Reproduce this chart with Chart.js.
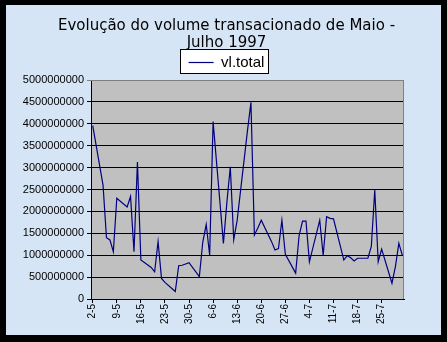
<!DOCTYPE html>
<html>
<head>
<meta charset="utf-8">
<script src="https://cdn.jsdelivr.net/npm/chart.js@4/dist/chart.umd.min.js"></script>
<style>
  html, body { margin: 0; padding: 0; background: #000; }
  #container { width: 447px; height: 342px; }
</style>
</head>
<body>
<div id="container"><canvas id="myChart" width="447" height="342"></canvas></div>
<script>
// trading days (d-m, 1997) and volume traded on each
const tradeDays = [
  '2-5',
  '5-5', '6-5', '7-5', '8-5', '9-5',
  '12-5', '13-5', '14-5', '15-5', '16-5',
  '19-5', '20-5', '21-5', '22-5', '23-5',
  '26-5', '27-5', '28-5', '29-5', '30-5',
  '2-6', '3-6', '4-6', '5-6', '6-6',
  '9-6', '10-6', '11-6', '12-6', '13-6',
  '16-6', '17-6', '18-6', '19-6', '20-6',
  '23-6', '24-6', '25-6', '26-6', '27-6',
  '30-6', '1-7', '2-7', '3-7', '4-7',
  '7-7', '8-7', '9-7', '10-7', '11-7',
  '14-7', '15-7', '16-7', '17-7', '18-7',
  '21-7', '22-7', '23-7', '24-7', '25-7',
  '28-7', '29-7', '30-7', '31-7'
];
const vlTotal = [
  3960000000,
  2600000000, 1400000000, 1350000000, 1080000000, 2300000000,
  2100000000, 2340000000, 1080000000, 3130000000, 890000000,
  720000000, 620000000, 1310000000, 470000000, 380000000,
  170000000, 760000000, 770000000, 800000000, 830000000,
  510000000, 1300000000, 1700000000, 1000000000, 4050000000,
  1270000000, 2200000000, 3020000000, 1350000000, 1800000000,
  3850000000, 4490000000, 1460000000, 1620000000, 1800000000,
  1310000000, 1120000000, 1150000000, 1800000000, 1020000000,
  590000000, 1450000000, 1780000000, 1780000000, 850000000,
  1800000000, 1000000000, 1880000000, 1840000000, 1830000000,
  890000000, 990000000, 940000000, 870000000, 930000000,
  930000000, 1200000000, 2490000000, 850000000, 1140000000,
  360000000, 740000000, 1270000000, 1000000000
];
const tickLabels = ['2-5', '9-5', '16-5', '23-5', '30-5', '6-6', '13-6', '20-6', '27-6', '4-7', '11-7', '18-7', '25-7'];
const yTicks = [0, 500000000, 1000000000, 1500000000, 2000000000, 2500000000, 3000000000, 3500000000, 4000000000, 4500000000, 5000000000];
const months = [[5, 2, 31], [6, 1, 30], [7, 1, 31]];

// date axis: one slot per calendar day, weekends left empty
const calendar = [];
months.forEach(([m, from, to]) => {
  for (let d = from; d <= to; d++) calendar.push(d + '-' + m);
});
const series = calendar.map(l => {
  const i = tradeDays.indexOf(l);
  return i >= 0 ? vlTotal[i] : null;
});

const frame = {
  id: 'frame',
  beforeDraw(chart) {
    const { ctx, chartArea: a } = chart;
    ctx.save();
    ctx.fillStyle = '#000';
    ctx.fillRect(0, 0, chart.width, chart.height);
    ctx.fillStyle = '#d6e5f6';
    ctx.fillRect(6, 5, chart.width - 12, chart.height - 12);
    ctx.fillStyle = '#c0c0c0';
    ctx.fillRect(a.left, a.top, a.right - a.left, a.bottom - a.top);
    const hb = chart.legend.legendHitBoxes[0];
    if (hb) {
      const x0 = Math.round(hb.left - 9) + 0.5, y0 = Math.round(hb.top - 6) + 0.5;
      const x1 = Math.round(hb.left + hb.width + 4) + 0.5, y1 = Math.round(hb.top + hb.height + 3) + 0.5;
      ctx.fillStyle = '#fff';
      ctx.fillRect(x0, y0, x1 - x0, y1 - y0);
      ctx.strokeStyle = '#000';
      ctx.lineWidth = 1;
      ctx.strokeRect(x0, y0, x1 - x0, y1 - y0);
    }
    ctx.restore();
  },
  beforeDatasetsDraw(chart) {
    const { ctx, chartArea: a } = chart;
    ctx.save();
    ctx.strokeStyle = '#808080';
    ctx.lineWidth = 1;
    ctx.beginPath();
    ctx.moveTo(a.left, a.top + 0.5);
    ctx.lineTo(Math.round(a.right) - 0.5, a.top + 0.5);
    ctx.lineTo(Math.round(a.right) - 0.5, a.bottom);
    ctx.stroke();
    ctx.restore();
  }
};

const myChart = document.getElementById('myChart').getContext('2d');
new Chart(myChart, {
  type: 'line',
  data: {
    labels: calendar,
    datasets: [{
      label: 'vl.total',
      data: series,
      borderColor: '#000080',
      backgroundColor: '#000080',
      borderWidth: 1.2,
      pointRadius: 0,
      tension: 0,
      spanGaps: true,
      fill: false
    }]
  },
  options: {
    responsive: false,
    animation: false,
    devicePixelRatio: 1,
    layout: { padding: { left: 6, right: 0, top: 0, bottom: 0 } },
    plugins: {
      title: {
        display: true,
        text: ['Evolução do volume transacionado de Maio -', 'Julho 1997'],
        color: '#000',
        font: { family: '"DejaVu Sans", Verdana, sans-serif', size: 15, weight: 'normal', lineHeight: 1.1 },
        padding: { top: 18, bottom: 0 }
      },
      legend: {
        display: true,
        labels: {
          usePointStyle: true,
          pointStyle: 'line',
          pointStyleWidth: 25,
          color: '#000',
          padding: 4,
          font: { family: '"Liberation Sans", Arial, sans-serif', size: 15 }
        }
      },
      tooltip: { enabled: false }
    },
    scales: {
      x: {
        offset: true,
        border: { color: '#000' },
        grid: {
          drawOnChartArea: false,
          tickLength: 4,
          color: c => (c.tick && c.tick.label ? '#000' : 'rgba(0,0,0,0)')
        },
        ticks: {
          autoSkip: false,
          minRotation: 90,
          maxRotation: 90,
          padding: 1,
          color: '#000',
          font: { family: '"Liberation Sans", Arial, sans-serif', size: 10 },
          callback: function (v) {
            const l = this.getLabelForValue(v);
            return tickLabels.includes(l) ? l : '';
          }
        },
        afterFit: s => { s.height = 43; }
      },
      y: {
        min: 0,
        max: 5000000000,
        border: { color: '#000' },
        grid: {
          tickLength: 4,
          color: c => (c.tick && c.tick.value === 5000000000 ? '#808080' : '#000')
        },
        afterBuildTicks: s => { s.ticks = yTicks.map(v => ({ value: v })); },
        ticks: {
          padding: 3,
          color: '#000',
          font: { family: '"Liberation Sans", Arial, sans-serif', size: 11 },
          callback: v => String(v)
        },
        afterFit: s => { s.width = 85; }
      },
      pad: {
        type: 'linear',
        position: 'right',
        display: true,
        grid: { display: false },
        border: { display: false },
        ticks: { display: false },
        afterFit: s => { s.width = 43; }
      }
    }
  },
  plugins: [frame]
});
</script>
</body>
</html>
